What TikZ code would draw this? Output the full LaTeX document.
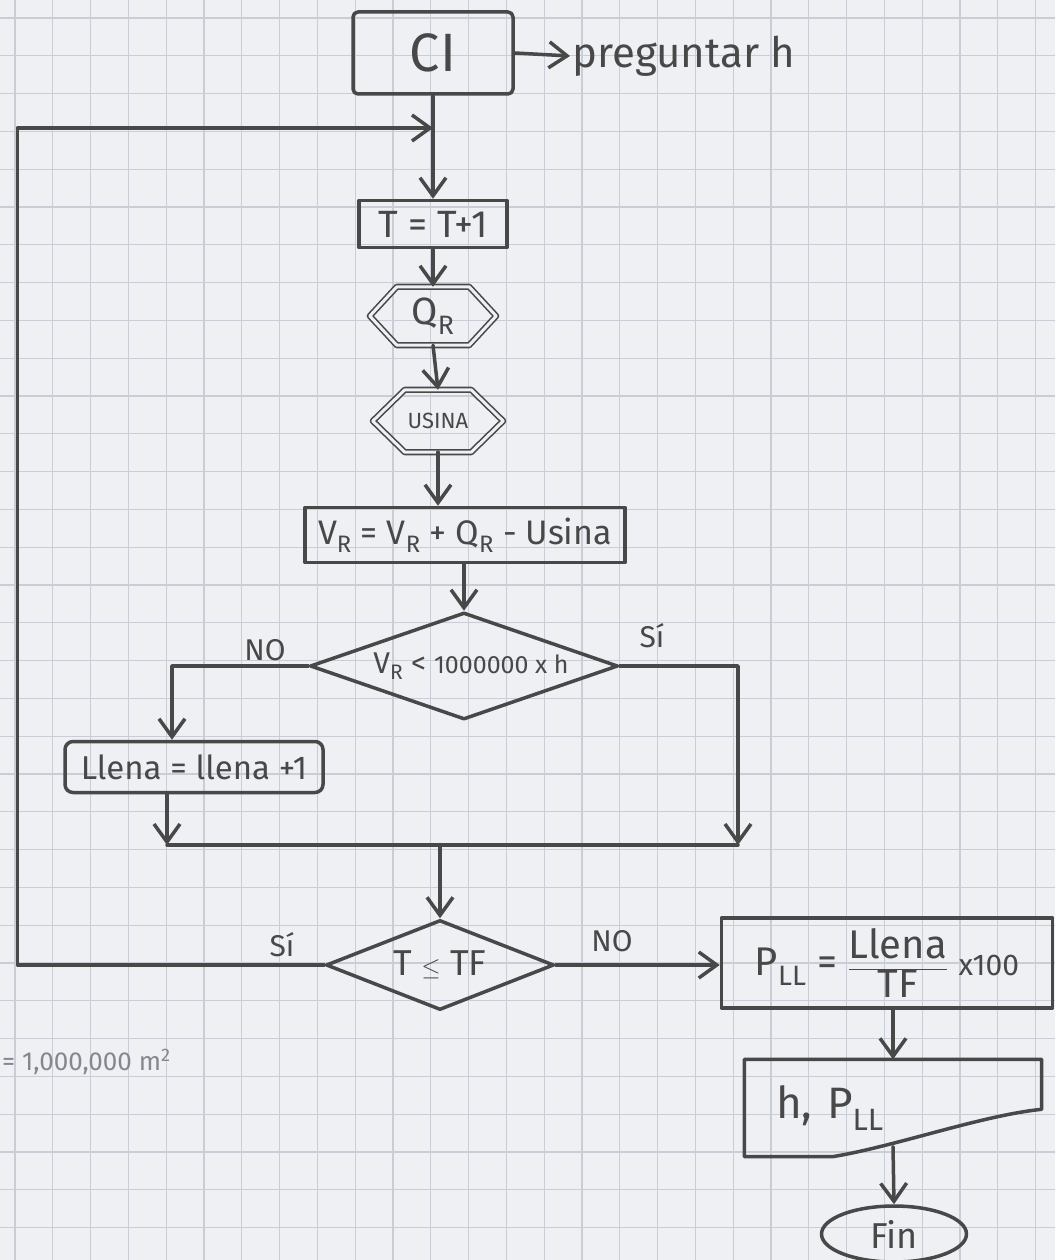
\documentclass[tikz,border=0pt]{standalone}
\usepackage{fontspec}
\setmainfont{Fira Sans}
\usetikzlibrary{arrows.meta,shapes.geometric,calc}
\definecolor{paper}{HTML}{EEF0F4}
\definecolor{gridc}{HTML}{C9CDD5}
\definecolor{ink}{HTML}{484848}
\definecolor{faint}{HTML}{85878E}
\newcommand{\lowR}[1]{\textsubscript{#1}}
\tikzset{
  inkline/.style={draw=ink, line width=3.5pt, line cap=round, line join=round},
  arr/.style={inkline, -{Straight Barb[length=18pt,width=26pt]}},
  fnt/.style={font=\fontsize{#1}{#1}\selectfont, text=ink},
  box/.style={inkline, rectangle, inner sep=0pt, align=center},
  hexa/.style={draw=ink, line width=1.6pt, double=paper, double distance=3pt, line join=round},
  dia/.style={inkline, diamond, inner sep=0pt, align=center},
  lbl/.style={fnt=30},
}
\begin{document}
\begin{tikzpicture}[x=1pt,y=-1pt]
\useasboundingbox (0,0) rectangle (1055,1260);
\fill[paper] (0,0) rectangle (1055,1260);
\foreach \i in {0,...,27} \draw[gridc, line width=1.2pt] (15+37.8*\i,0) -- (15+37.8*\i,1260);
\foreach \i in {0,...,32} \draw[gridc, line width=1.2pt] (0,18+37.8*\i) -- (1055,18+37.8*\i);

% nodes
\node[box, minimum width=160pt, minimum height=82pt, rounded corners=5pt, fnt=54] (ci) at (433,53) {CI};
\node[fnt=42, anchor=west, inner sep=2pt] (preg) at (570,56) {preguntar h};
\node[box, minimum width=148pt, minimum height=47pt, fnt=38] (t1) at (433,224) {T = T+1};
\node[minimum width=72pt, minimum height=58pt, inner sep=0pt, fnt=38] (qr) at (433,316) {Q\lowR{R}};
\draw[hexa] (qr.north west) -- (qr.north east) -- ($(qr.east)+(27,0)$) -- (qr.south east) -- (qr.south west) -- ($(qr.west)+(-27,0)$) -- cycle;
\node[minimum width=66pt, minimum height=62pt, inner sep=0pt, fnt=22] (us) at (438,421) {USINA};
\draw[hexa] (us.north west) -- (us.north east) -- ($(us.east)+(32,0)$) -- (us.south east) -- (us.south west) -- ($(us.west)+(-32,0)$) -- cycle;
\node[box, minimum width=320pt, minimum height=55pt, fnt=34] (vr) at (465,535) {V\lowR{R} = V\lowR{R} + Q\lowR{R} - Usina};
\node[dia, minimum width=308pt, minimum height=107pt, aspect=2.88, fnt=30] (d1) at (464,666) {\hspace*{14pt}V\lowR{R} < {\fontsize{25}{25}\selectfont 1000000 x h}};
\node[box, minimum width=258pt, minimum height=51pt, rounded corners=8pt, fnt=33] (llena) at (194,767) {Llena = llena +1};
\coordinate (ml) at (167,845);
\coordinate (mr) at (738,845);
\coordinate (mc) at (440,845);
\node[dia, minimum width=228pt, minimum height=90pt, aspect=2.5, fnt=36] (d2) at (440,965) {T $\leq$ TF};
\coordinate (loopin) at (433,128);
\node[box, minimum width=331pt, minimum height=90pt, fnt=40] (pll) at (887,963) {P\lowR{LL} = $\displaystyle\frac{\hbox{Llena}}{\hbox{TF}}$ {\fontsize{30}{30}\selectfont x100}};
\node[rectangle, minimum width=297pt, minimum height=97pt, inner sep=0pt, fnt=44, text width=270pt, align=left] (out) at (893,1108) {\hspace*{18pt}h, P\lowR{LL}\\[10pt]};
\draw[inkline] ($(out.north east)+(0,50)$) .. controls ($(out.north east)+(-60,56)$) and ($(out.south west)+(150,-10)$) .. ($(out.south west)+(88,0)$) -- (out.south west) -- (out.north west) -- (out.north east) -- cycle;
\node[inkline, ellipse, minimum width=145pt, minimum height=56pt, inner sep=0pt, fnt=36] (fin) at (894,1234) {Fin};
\node[fnt=26, text=faint, anchor=west, inner sep=0pt] (note) at (2,1062) {= 1,000,000 m\textsuperscript{2}};

% labels
\node[lbl] (lsi1) at (652,636) {Sí};
\node[lbl] (lno1) at (265,650) {NO};
\node[lbl] (lsi2) at (282,945) {Sí};
\node[lbl] (lno2) at (612,941) {NO};

% connectors
\draw[arr] (ci.east) -- (preg.west);
\draw[arr] (ci.south) -- (t1.north);
\draw[arr] (t1.south) -- (qr.north);
\draw[arr] (qr.south) -- (us.north);
\draw[arr] (us.south) -- (us.south |- vr.north);
\draw[arr] (d1.north |- vr.south) -- (d1.north);
\draw[arr] (d1.west) -| ($(llena.north)+(-22,0)$);
\draw[arr] (d1.east) -| (mr);
\draw[arr] (llena.south -| ml) -- (ml);
\draw[inkline] (ml) -- (mr);
\draw[arr] (mc) -- (d2.north);
\draw[arr] (d2.east) -- (d2.east -| pll.west);
\draw[arr] (d2.west) -- ++(-307,0) |- (loopin);
\draw[arr] (out.north |- pll.south) -- (out.north);
\draw[arr] ($(out.south)+(0,-10)$) -- (fin.north);
\end{tikzpicture}
\end{document}
